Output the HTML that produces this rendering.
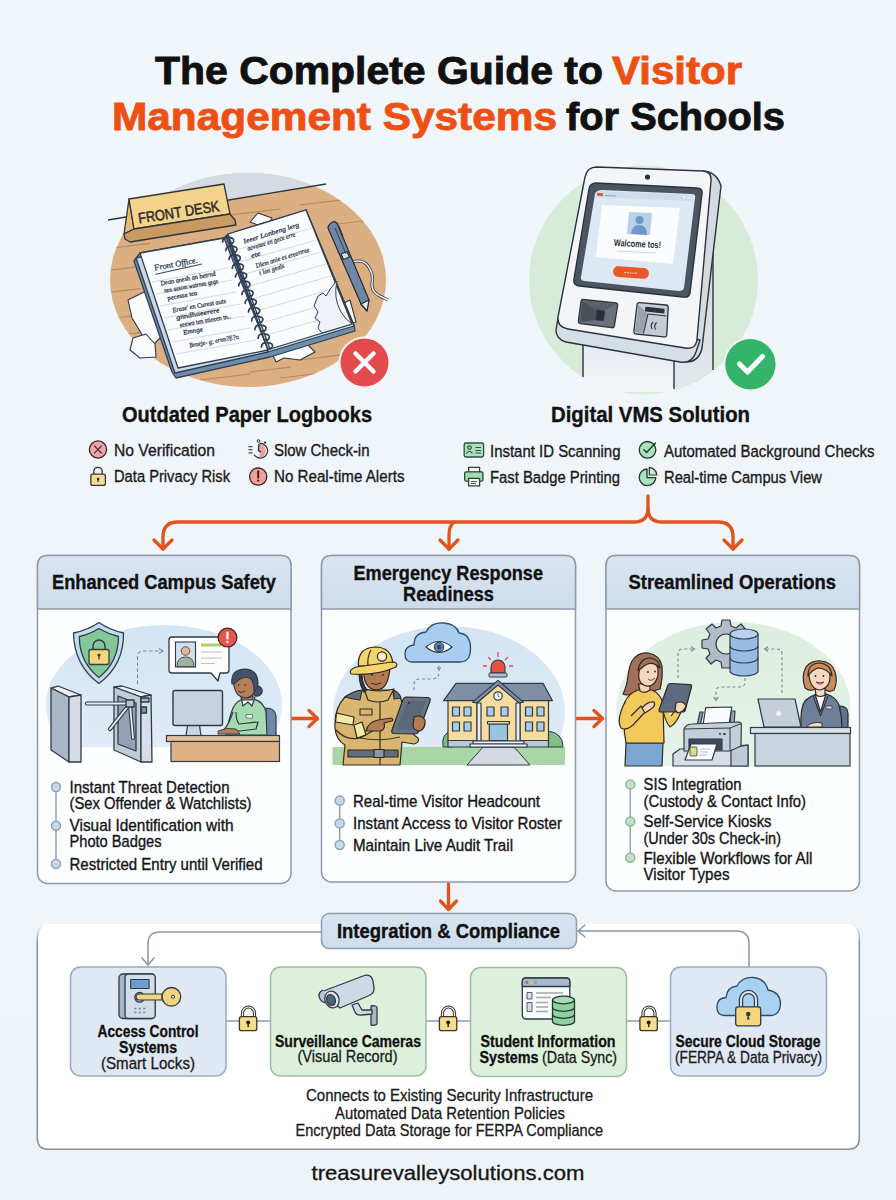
<!DOCTYPE html>
<html><head><meta charset="utf-8">
<style>
html,body{margin:0;padding:0;background:#f0f5fa;width:896px;height:1200px;overflow:hidden}
svg{display:block}
text{font-family:"Liberation Sans",sans-serif}
.b{font-weight:bold}
.hw text{font-family:"Liberation Serif",serif;font-style:italic}
</style></head>
<body>
<svg width="896" height="1200" viewBox="0 0 896 1200">
<defs>
<linearGradient id="bgG" x1="0" y1="0" x2="0" y2="1"><stop offset="0" stop-color="#f1f6fa"/><stop offset="1" stop-color="#eef3f8"/></linearGradient>
<linearGradient id="hdG" x1="0" y1="0" x2="0" y2="1"><stop offset="0" stop-color="#d9e5f1"/><stop offset="1" stop-color="#cddcec"/></linearGradient>
</defs>
<rect width="896" height="1200" fill="url(#bgG)"/>

<!-- TITLE -->
<g class="b" font-size="39.6" stroke-width="0.9">
<text x="155" y="83.5" fill="#111" stroke="#111" textLength="448" lengthAdjust="spacingAndGlyphs">The Complete Guide to</text>
<text x="612" y="83.5" fill="#ee4f12" stroke="#ee4f12" textLength="130" lengthAdjust="spacingAndGlyphs">Visitor</text>
<text x="112" y="129.5" fill="#ee4f12" stroke="#ee4f12" textLength="445" lengthAdjust="spacingAndGlyphs">Management Systems</text>
<text x="566" y="129.5" fill="#111" stroke="#111" textLength="219" lengthAdjust="spacingAndGlyphs">for Schools</text>
</g>

<!-- LEFT ILLUSTRATION -->
<defs><clipPath id="cL"><ellipse cx="248" cy="280" rx="138" ry="107"/></clipPath></defs>
<ellipse cx="248" cy="280" rx="138" ry="107" fill="#dcb083"/>
<g clip-path="url(#cL)">
<polygon points="100,221 326,184 400,170 400,150 100,150" fill="#d5dbe2"/>
<g stroke="#b08458" stroke-width="1.2" fill="none" stroke-linecap="round" opacity="0.85">
<path d="M112 248 L150 243.4"/>
<path d="M112 270 L135 267.2"/>
<path d="M112 292 L140 288.6"/>
<path d="M115 318 L150 313.8"/>
<path d="M120 335 L140 332.6"/>
<path d="M230 215 L280 209.0"/>
<path d="M300 205 L345 199.6"/>
<path d="M330 225 L380 219.0"/>



<path d="M280 378 L330 372.0"/>
<path d="M200 380 L250 374.0"/>
<path d="M160 372 L190 368.4"/>
<path d="M300 360 L340 355.2"/>

<path d="M250 372 L290 367.2"/>
</g>
</g>
<line x1="108" y1="220" x2="326" y2="184" stroke="#2e3440" stroke-width="1.4"/>
<!-- paper scraps -->
<g fill="#fbfcfd" stroke="#2e3440" stroke-width="1.1" stroke-linejoin="round">
<polygon points="128,300 148,290 168,330 150,348 132,318"/>
<polygon points="133,338 146,334 155,344 156,357 140,358 130,350"/>
<polygon points="268,345 300,337 315,352 300,360 284,358 276,362"/>
<polygon points="250,222 258,213 272,218 266,228"/>
<polygon points="330,310 350,300 356,322 340,326"/>
</g>
<!-- sign -->
<g stroke="#2e3440" stroke-width="1.3" stroke-linejoin="round">
<polygon points="124,234 129,199 134,229" fill="#e4bc72"/>
<polygon points="129,199 224,184 230,214 134,229" fill="#f4d48a"/>
<polygon points="124,234 134,229 230,214 235,220 236,225 130,242 125,239" fill="#c99a62"/>
</g>
<text x="0" y="0" font-size="15" fill="#2a2a2a" stroke="#2a2a2a" stroke-width="0.5" transform="translate(139,223.5) rotate(-8.8)" textLength="82" lengthAdjust="spacingAndGlyphs">FRONT DESK</text>
<!-- notebook -->
<g stroke="#2e3f55" stroke-width="1.3" stroke-linejoin="round">
<polygon points="134,261 140,253 224,238 228,234 306,210 354,325 355,331 270,357 176,378 172,372" fill="#6f8cab"/>
<polygon points="136,258 224,240 268,352 175,373" fill="#c9d6e4"/>
<polygon points="228,236 306,210 354,326 268,352" fill="#c9d6e4"/>
<polygon points="140,253 224,238 268,350 178,368" fill="#fbfcfd"/>
<polygon points="228,234 306,210 352,324 270,349" fill="#fbfcfd"/>
</g>
<g stroke="#c5cfdb" stroke-width="0.8">
<path d="M152 282 L228 268 M156 294 L232 280 M160 306 L236 292 M164 318 L240 304 M168 330 L245 316 M172 342 L250 328 M176 354 L256 340"/>
<path d="M236 250 L312 228 M240 262 L316 240 M245 274 L321 252 M250 286 L326 264 M255 298 L331 276 M260 310 L336 288 M265 322 L341 300 M270 334 L346 312"/>
</g>
<g transform="matrix(0.984,-0.176,0.314,0.949,140,253)" class="hw" fill="#2c3850" stroke="#2c3850" stroke-width="0.25">
<text x="9" y="20" font-size="8.5" textLength="44" lengthAdjust="spacingAndGlyphs">Front Office.</text>
<path d="M8 24 L56 22" stroke="#2c3850" stroke-width="0.9"/>
<text x="10" y="36" font-size="6.8" textLength="56" lengthAdjust="spacingAndGlyphs">Dean anesh an betrnd</text>
<text x="11" y="44" font-size="6.8" textLength="55" lengthAdjust="spacingAndGlyphs">nen aesom watrnee gege</text>
<text x="12" y="52" font-size="6.8" textLength="30" lengthAdjust="spacingAndGlyphs">pecesse tea</text>
<text x="13" y="65" font-size="6.8" textLength="54" lengthAdjust="spacingAndGlyphs">Erase' en Cureat auts</text>
<text x="14" y="73" font-size="6.8" textLength="44" lengthAdjust="spacingAndGlyphs">gnndhaeerere</text>
<text x="15" y="81" font-size="6.8" textLength="52" lengthAdjust="spacingAndGlyphs">seewo ten stieeen tn..</text>
<text x="16" y="89" font-size="6.8" textLength="20" lengthAdjust="spacingAndGlyphs">Emnge</text>
<text x="18" y="103" font-size="6.8" textLength="50" lengthAdjust="spacingAndGlyphs">Broeje- g; ernn?E?o</text>
</g>
<g transform="matrix(0.956,-0.294,0.343,0.939,228,234)" class="hw" fill="#2c3850" stroke="#2c3850" stroke-width="0.25">
<text x="12" y="14" font-size="6.8" textLength="58" lengthAdjust="spacingAndGlyphs">Ieeer Lonbeng lerg</text>
<text x="13" y="22" font-size="6.8" textLength="50" lengthAdjust="spacingAndGlyphs">aeveaee en gece erre</text>
<text x="14" y="30" font-size="6.8" textLength="10" lengthAdjust="spacingAndGlyphs">ete</text>
<text x="15" y="41" font-size="6.8" textLength="56" lengthAdjust="spacingAndGlyphs">Dlem anie es ereertree</text>
<text x="16" y="49" font-size="6.8" textLength="26" lengthAdjust="spacingAndGlyphs">i lon geals</text>
</g>
<path d="M318 296 L323 293 L326 296 L331 288 Q334 284 337 281 Q333 298 341 312 Q346 320 352 324 L322 333 L318 328 L320 322 L315 318 L318 312 L314 306 Z" fill="#eef2f7" stroke="#2e3f55" stroke-width="1"/>
<!-- spiral -->
<g fill="none" stroke="#2e3f55" stroke-width="1.7" stroke-linecap="round">
<path d="M226 236 L268 350" stroke-width="1.3"/>
<path d="M222.6 241.9 q0 -5 6 -4.5 q6 0.5 5 4 q-1 3 -4 2"/>
<path d="M225.8 250.7 q0 -5 6 -4.5 q6 0.5 5 4 q-1 3 -4 2"/>
<path d="M229.1 259.4 q0 -5 6 -4.5 q6 0.5 5 4 q-1 3 -4 2"/>
<path d="M232.3 268.2 q0 -5 6 -4.5 q6 0.5 5 4 q-1 3 -4 2"/>
<path d="M235.5 277.0 q0 -5 6 -4.5 q6 0.5 5 4 q-1 3 -4 2"/>
<path d="M238.8 285.7 q0 -5 6 -4.5 q6 0.5 5 4 q-1 3 -4 2"/>
<path d="M242.0 294.5 q0 -5 6 -4.5 q6 0.5 5 4 q-1 3 -4 2"/>
<path d="M245.2 303.3 q0 -5 6 -4.5 q6 0.5 5 4 q-1 3 -4 2"/>
<path d="M248.5 312.0 q0 -5 6 -4.5 q6 0.5 5 4 q-1 3 -4 2"/>
<path d="M251.7 320.8 q0 -5 6 -4.5 q6 0.5 5 4 q-1 3 -4 2"/>
<path d="M254.9 329.6 q0 -5 6 -4.5 q6 0.5 5 4 q-1 3 -4 2"/>
<path d="M258.2 338.3 q0 -5 6 -4.5 q6 0.5 5 4 q-1 3 -4 2"/>
<path d="M261.4 347.1 q0 -5 6 -4.5 q6 0.5 5 4 q-1 3 -4 2"/>
</g>
<!-- pen -->
<path d="M349 263 Q362 258 368 266 Q374 274 372 284 Q371 293 384 298 L388 300" fill="none" stroke="#2e3440" stroke-width="3"/>
<path d="M349 263 Q362 258 368 266 Q374 274 372 284 Q371 293 384 298 L388 300" fill="none" stroke="#eef0f2" stroke-width="1.4"/>
<g stroke="#222a36" stroke-width="1.2" stroke-linejoin="round">
<path d="M330 224 Q333 220 337 223 L369 300 L367 311 L361 304 L328 228 Q328 226 330 224 Z" fill="#6f87a5"/>
<path d="M341 254 L347 251.5 L349.5 257 L343.5 259.5 Z" fill="#d8dee6"/>
<path d="M361 304 L369 300 L367 311 Z" fill="#e4e9ee"/>
</g>
<path d="M335 228 L346 254 M339 226 L343 236" stroke="#2e3440" stroke-width="0.9" fill="none"/>
<!-- red X badge -->
<circle cx="364.5" cy="362.5" r="26" fill="#f6f8fa"/>
<circle cx="364.5" cy="362.5" r="24" fill="#e24a4b"/>
<path d="M355.5 353.5 L373.5 371.5 M373.5 353.5 L355.5 371.5" stroke="#fff" stroke-width="4.5" stroke-linecap="round"/>

<!-- RIGHT ILLUSTRATION -->
<circle cx="643.5" cy="280" r="114.5" fill="#d6ecd8"/>
<g stroke="#2b323c" stroke-width="1.4" stroke-linejoin="round">
<!-- pole -->
<defs><linearGradient id="poleG" x1="0" y1="0" x2="0" y2="1"><stop offset="0" stop-color="#e3e9ef"/><stop offset="1" stop-color="#f3f6f9"/></linearGradient>
<linearGradient id="poleS" x1="0" y1="0" x2="0" y2="1"><stop offset="0" stop-color="#cfd7e0"/><stop offset="1" stop-color="#e2e8ee"/></linearGradient></defs>
<polygon points="672,250 713,244 713,371 672,392" fill="url(#poleS)" stroke="none"/>
<path d="M713 244 V370" fill="none"/>
<polygon points="583,336 674,352 674,392 583,392" fill="url(#poleG)" stroke="none"/>
<path d="M583 338 V377 M674 352 V389" fill="none"/>
<!-- head side panel -->
<path d="M703 171 Q717 172 721 186 L702 348 Q699 362 686 362 L672 360 Z" fill="#d3dae2"/>
<!-- head bottom band -->
<path d="M558 318 L556 330 Q556 339 566 342 L680 362 Q692 364 696 352 L700 340 Z" fill="#d5dde6"/>
<!-- head front -->
<path d="M597 167 L703 171 Q712 172 711 181 L697 339 Q696 350 685 348 L568 329 Q557 327 558 317 L585 177 Q587 167 597 167 Z" fill="#f3f5f8"/>
<!-- screen bezel -->
<path d="M596 183 L697 188 Q703 188 702 194 L690 293 Q689 298 683 297 L579 286 Q573 285 574 279 L589 189 Q590 183 596 183 Z" fill="#4b5563"/>
<path d="M602 190 L692 194 Q696 194 695 198 L684 288 Q683 291 679 291 L584 281 Q580 280 581 277 L595 194 Q596 190 602 190 Z" fill="#dde8f4" stroke="none"/>
</g>
<path d="M598 191 L693 195 L692 201 L597 197 Z" fill="#cddcec"/>
<circle cx="684" cy="197.5" r="1.2" fill="#f4f7fa"/><circle cx="688.5" cy="197.7" r="1.2" fill="#f4f7fa"/>
<path d="M605 195.5 L616 196" stroke="#9aa8b8" stroke-width="1"/>
<rect x="597" y="193" width="6" height="3" fill="#e0553a" transform="rotate(3 600 194)"/>
<!-- white card -->
<polygon points="602,205 680,208 673,264 596,257" fill="#fbfcfd"/>
<polygon points="629,212 652,213 650,235 627,234" fill="#b9d0ea"/>
<circle cx="639.5" cy="220" r="4" fill="#6f98c8"/>
<path d="M631 234 Q632 225 639 225 Q647 225 647 235 Z" fill="#6f98c8"/>
<text x="614" y="247" font-size="9.5" font-weight="bold" fill="#2a2f38" transform="rotate(3 637 244)" textLength="47" lengthAdjust="spacingAndGlyphs">Walcome tos!</text>
<path d="M617 251 L656 253" stroke="#a9b0ba" stroke-width="0.7" stroke-dasharray="1.5 0.6"/>
<rect x="613" y="267" width="36" height="11" rx="5.5" fill="#e8592a" transform="rotate(4 631 272)"/>
<path d="M624 272.5 L638 273.4" stroke="#f7c2ad" stroke-width="1.2" stroke-dasharray="2 0.8"/>
<circle cx="647.5" cy="177" r="2.6" fill="#2b323c"/>
<!-- slots -->
<g stroke="#2b323c" stroke-width="1.3" stroke-linejoin="round">
<path d="M583 299.5 L615.5 302.8 Q618 303 617.6 305.5 L614.5 325.5 Q614 328 611.5 327.7 L580.5 323.6 Q578 323.2 578.4 320.7 L581 301.7 Q581.3 299.3 583 299.5 Z" fill="#6b717c"/>
<polygon points="582.5,301 597,310 596,320 580,322" fill="#4a505a" stroke="none"/>
<polygon points="582.5,301 615.5,304 604,311 597,310" fill="#5a606b" stroke="none"/>
<polygon points="597,310 604.5,311 603.5,320.5 596,320" fill="#2a2f37" stroke-width="0.8"/>
<path d="M639.5 302.7 L666 305 Q668.5 305.3 668.2 307.8 L666.8 334.5 Q666.6 337.2 664 336.9 L636.2 334 Q633.6 333.7 633.9 331.2 L637 305 Q637.3 302.5 639.5 302.7 Z" fill="#c5ccd4"/>
<polygon points="638.5,304.5 648,314 643.5,333 635,332" fill="#9aa2ac" stroke="none"/>
<path d="M648 314 L666.5 316" fill="none" stroke-width="1"/>
<path d="M648 314 L643.5 333.5" fill="none" stroke-width="1"/>
<path d="M646 307.5 L664 309.5 L663.6 312.8 L645.6 310.8 Z" fill="#2b323c"/>
</g>
<path d="M652 329 q-2 -4 1 -7 M655.5 329.5 q-2 -4 1 -7" fill="none" stroke="#2b323c" stroke-width="1.1"/>
<!-- check badge -->
<circle cx="750.4" cy="364.3" r="27" fill="#f3f7f4"/>
<circle cx="750.4" cy="364.3" r="25.2" fill="#33b46a"/>
<path d="M739.5 364 L747.5 372 L762.5 356.5" fill="none" stroke="#fff" stroke-width="5" stroke-linecap="round" stroke-linejoin="round"/>


<!-- HEADINGS -->
<g class="b" font-size="21.8" fill="#111" stroke="#111" stroke-width="0.35">
<text x="122" y="422" textLength="250" lengthAdjust="spacingAndGlyphs">Outdated Paper Logbooks</text>
<text x="551" y="422" textLength="199" lengthAdjust="spacingAndGlyphs">Digital VMS Solution</text>
</g>
<g font-size="17.4" fill="#1a1a1a" stroke="#1a1a1a" stroke-width="0.35">
<text x="114" y="456" textLength="101" lengthAdjust="spacingAndGlyphs">No Verification</text>
<text x="274" y="456" textLength="95.5" lengthAdjust="spacingAndGlyphs">Slow Check-in</text>
<text x="114" y="482" textLength="116" lengthAdjust="spacingAndGlyphs">Data Privacy Risk</text>
<text x="274" y="482" textLength="130.5" lengthAdjust="spacingAndGlyphs">No Real-time Alerts</text>
<text x="490" y="457" textLength="130.5" lengthAdjust="spacingAndGlyphs">Instant ID Scanning</text>
<text x="664" y="457" textLength="210.5" lengthAdjust="spacingAndGlyphs">Automated Background Checks</text>
<text x="490" y="483" textLength="130" lengthAdjust="spacingAndGlyphs">Fast Badge Printing</text>
<text x="664" y="483" textLength="158" lengthAdjust="spacingAndGlyphs">Real-time Campus View</text>
</g>
<!-- FEATURE ICONS -->
<g stroke="#3a2424" stroke-width="1.3">
<circle cx="98" cy="449.5" r="8.6" fill="#eca6a9"/>
<path d="M94.2 445.7 L101.8 453.3 M101.8 445.7 L94.2 453.3" stroke-width="1.1"/>
<circle cx="258.2" cy="476.6" r="8.6" fill="#eea29c"/>
</g>
<path d="M258.2 471.2 L258.2 477.6" stroke="#5a1414" stroke-width="2" stroke-linecap="round"/>
<circle cx="258.2" cy="480.6" r="1.1" fill="#5a1414"/>
<!-- stopwatch -->
<path d="M259.5 443.5 A7.3 7.3 0 0 1 259.5 458 Z" fill="#eea29c"/>
<path d="M254 454.5 A7.3 7.3 0 1 0 259.5 443.5" fill="none" stroke="#2e2e2e" stroke-width="1.2"/>
<path d="M259 444 L258.5 450.5 L261 452" fill="none" stroke="#2e2e2e" stroke-width="1.4"/>
<circle cx="258.5" cy="441" r="1.3" fill="none" stroke="#2e2e2e" stroke-width="1"/>
<circle cx="265" cy="442.6" r="1.1" fill="#2e2e2e"/>
<path d="M248.5 446.6 H252.5 M248.5 449.6 H252.5 M248.5 452.8 H252.5" stroke="#4a4a4a" stroke-width="1.2"/>
<!-- lock -->
<path d="M93.8 474.5 V471.5 A4.2 4.2 0 0 1 102.2 471.5 V474.5" fill="none" stroke="#2f2f2f" stroke-width="1.3"/>
<rect x="90.8" y="474.2" width="14.6" height="11.2" rx="2" fill="#f4dc98" stroke="#3a3528" stroke-width="1.3"/>
<circle cx="98.1" cy="479" r="1.2" fill="#222"/><path d="M98.1 479 V482" stroke="#222" stroke-width="1.1"/>
<!-- ID card -->
<rect x="464.2" y="443" width="19.4" height="14" rx="1.8" fill="#a9e2bc" stroke="#2f4f3a" stroke-width="1.3"/>
<circle cx="469.5" cy="447.6" r="1.8" fill="none" stroke="#2f4f3a" stroke-width="1.2"/>
<path d="M466.5 453.5 Q469.5 449 472.5 453.5" fill="none" stroke="#2f4f3a" stroke-width="1.2"/>
<path d="M475.5 447.5 H481 M475.5 450.5 H481 M475.5 453 H481" stroke="#2f4f3a" stroke-width="1"/>
<!-- printer -->
<g stroke="#2f3f36" stroke-width="1.3" stroke-linejoin="round">
<rect x="468.6" y="467.4" width="11" height="5" fill="#f6f8f7"/>
<rect x="464.7" y="471.8" width="18.2" height="9.4" rx="1.5" fill="#9fdcb3"/>
<rect x="468.6" y="478.3" width="11" height="7.6" fill="#fbfcfb"/>
</g>
<path d="M471 481.5 H477 M471 483.5 H476" stroke="#2f3f36" stroke-width="0.9"/>
<!-- check circle -->
<circle cx="647.5" cy="449.8" r="8.3" fill="#a9e2bc" stroke="#24352b" stroke-width="1.3"/>
<path d="M644 449.8 L646.6 452.5 L655.5 443" fill="none" stroke="#1f3d2a" stroke-width="1.4" stroke-linecap="round"/>
<!-- pie -->
<path d="M647 469 A8.3 8.3 0 1 0 655.8 477.6 L647 477.6 Z" fill="#a9e2bc" stroke="#24352b" stroke-width="1.3" stroke-linejoin="round"/>
<path d="M649.3 467.4 A8 8 0 0 1 656.8 475 L649.3 475 Z" fill="#c7ecd2" stroke="#24352b" stroke-width="1.2" stroke-linejoin="round"/>


<!-- ORANGE ARROWS -->
<g fill="none" stroke="#e0531d" stroke-width="3.3" stroke-linecap="round" stroke-linejoin="round">
<path d="M648 496 V508 Q648 522 634 522 H178 Q163 522 163 537 V549"/>
<path d="M648 508 Q648 522 662 522 H718 Q733 522 733 537 V549"/>
<path d="M154 540 L163 549 L172 540"/>
<path d="M724 540 L733 549 L742 540"/>
<path d="M454 522 Q449 526 449 535 V549"/>
<path d="M440 540 L449 549 L458 540"/>
<path d="M292 718.5 H317"/>
<path d="M309 710.5 L317.5 718.5 L309 726.5"/>
<path d="M576 718.5 H602"/>
<path d="M594 710.5 L602.5 718.5 L594 726.5"/>
<path d="M448.5 884 V909"/>
<path d="M440.5 901 L448.5 909.5 L456.5 901"/>
</g>

<!-- CARDS -->
<g stroke="#8e9aa8" stroke-width="1.5">
<rect x="37.5" y="555.5" width="253.5" height="328" rx="10" fill="#fdfeff"/>
<path d="M37.5 609 V565.5 Q37.5 555.5 47.5 555.5 H281 Q291 555.5 291 565.5 V609 Z" fill="url(#hdG)"/>
<rect x="321.5" y="555.5" width="254" height="326.5" rx="10" fill="#fdfeff"/>
<path d="M321.5 609 V565.5 Q321.5 555.5 331.5 555.5 H565.5 Q575.5 555.5 575.5 565.5 V609 Z" fill="url(#hdG)"/>
<rect x="606" y="555.5" width="253.5" height="335.5" rx="10" fill="#fdfeff"/>
<path d="M606 609 V565.5 Q606 555.5 616 555.5 H849.5 Q859.5 555.5 859.5 565.5 V609 Z" fill="url(#hdG)"/>
</g>
<g class="b" font-size="20.6" fill="#111" stroke="#111" stroke-width="0.35">
<text x="52" y="588.6" textLength="224" lengthAdjust="spacingAndGlyphs">Enhanced Campus Safety</text>
<text x="353.5" y="580.3" textLength="189.5" lengthAdjust="spacingAndGlyphs">Emergency Response</text>
<text x="403" y="601" textLength="91" lengthAdjust="spacingAndGlyphs">Readiness</text>
<text x="628.5" y="588.6" textLength="207.5" lengthAdjust="spacingAndGlyphs">Streamlined Operations</text>
</g>

<!-- CARD1 ILLUS -->
<defs><clipPath id="c1"><rect x="40" y="612" width="250" height="135"/></clipPath>
<linearGradient id="blueE" x1="0" y1="0" x2="0" y2="1"><stop offset="0" stop-color="#d3e5f3"/><stop offset="1" stop-color="#e3eef7"/></linearGradient></defs>
<ellipse cx="164" cy="705" rx="118" ry="80" fill="url(#blueE)" clip-path="url(#c1)"/>
<!-- shield -->
<g stroke="#2e3f50" stroke-width="1.3" stroke-linejoin="round">
<path d="M98.9 622.5 Q110 630 123.5 633 Q124 665 98.9 683.5 Q74 665 73.5 633 Q88 630 98.9 622.5 Z" fill="#c6dcea"/>
<path d="M98.9 628.5 Q108 634 118.5 636.5 Q118.5 662 98.9 677.5 Q79.3 662 79.3 636.5 Q90 634 98.9 628.5 Z" fill="#84c797"/>
<path d="M93 650 V646 A6 6 0 0 1 105 646 V650" fill="none" stroke-width="1.5"/>
<rect x="89" y="649.5" width="20" height="15" rx="2" fill="#f5d679"/>
</g>
<circle cx="99" cy="655" r="1.6" fill="#2e3f50"/><path d="M99 655 V659.5" stroke="#2e3f50" stroke-width="1.3"/>
<!-- dashed arrow -->
<path d="M137.5 684 V657 Q137.5 651 143.5 651 H162" fill="none" stroke="#7b8794" stroke-width="1.1" stroke-dasharray="3.5 2.5"/>
<path d="M159 648.5 L163 651 L159 653.5" fill="none" stroke="#7b8794" stroke-width="1.1"/>
<!-- left pillar -->
<g stroke="#2e3a48" stroke-width="1.3" stroke-linejoin="round">
<polygon points="51,688 58,686 81,695 69,697" fill="#e8eef4"/>
<polygon points="51,688 69,697 69,762 51,750" fill="#a9b7c7"/>
<polygon points="69,697 81,695 81,762 69,762" fill="#d4dde7"/>
<!-- right unit -->
<polygon points="114,687 122,686 151,695 141,697" fill="#e8eef4"/>
<polygon points="114,687 141,697 141,762 114,750" fill="#c2ccd7"/>
<polygon points="118,696 136,703 136,751 118,744" fill="#93a3b5"/>
<polygon points="141,697 151,695 152,762 141,762" fill="#d6dee7"/>
<rect x="141.5" y="707" width="5" height="6" fill="#5fae72"/>
<rect x="141" y="698" width="8" height="4" fill="#aab6c3"/>
<!-- arms -->
<path d="M87 703.5 H129" stroke="#2e3a48" stroke-width="4.2" stroke-linecap="round"/>
<path d="M87 703.5 H129" stroke="#e6ecf2" stroke-width="2" stroke-linecap="round"/>
<path d="M129 705 L110 729" stroke="#2e3a48" stroke-width="4.2" stroke-linecap="round"/>
<path d="M129 705 L110 729" stroke="#e6ecf2" stroke-width="2" stroke-linecap="round"/>
<path d="M130 705 L133 738" stroke="#2e3a48" stroke-width="4" stroke-linecap="round"/>
<path d="M130 705 L133 738" stroke="#e6ecf2" stroke-width="1.8" stroke-linecap="round"/>
<rect x="126" y="700" width="8" height="7" fill="#b7c3cf"/>
</g>
<!-- speech bubble -->
<path d="M172 637 H226 Q229 637 229 640 V670 Q229 673 226 673 H220 L218 681 L211 673 H172 Q169 673 169 670 V640 Q169 637 172 637 Z" fill="#fdfdfe" stroke="#2e3a48" stroke-width="1.3" stroke-linejoin="round"/>
<rect x="175.5" y="642" width="20" height="25" fill="#cfe0ee" stroke="#2e3a48" stroke-width="1.1"/>
<circle cx="185.5" cy="651" r="4.3" fill="#e7b48e" stroke="#2e3a48" stroke-width="0.8"/>
<path d="M177 666.5 Q177 657 185.5 657 Q194 657 194 666.5 Z" fill="#9fb09f" stroke="#2e3a48" stroke-width="0.8"/>
<rect x="201" y="643.5" width="20" height="3" fill="#a8cf6a"/>
<path d="M201 652 H222 M201 658 H222 M201 663.5 H215" stroke="#b8c0c8" stroke-width="1.2"/>
<circle cx="227.5" cy="637.6" r="9.4" fill="#e5574d" stroke="#4a2020" stroke-width="1.2"/>
<path d="M227.5 632.5 V638.5" stroke="#fff" stroke-width="2.2" stroke-linecap="round"/>
<circle cx="227.5" cy="642" r="1.2" fill="#fff"/>
<!-- chair -->
<path d="M266 708 Q275 708 276 716 V736 H265 Z" fill="#6f89ab" stroke="#2e3a48" stroke-width="1.2"/>
<!-- person -->
<g stroke="#2e3a48" stroke-width="1.2" stroke-linejoin="round">
<path d="M226 735 Q229 718 233 708 Q237 700 244 699 L254 699 Q264 702 266 712 L267 735 Z" fill="#a6dbb1"/>
<path d="M233 712 Q229 724 224 730 L240 731 L256 729 L258 722 L239 724 Q236 720 236 712" fill="#a6dbb1"/>
<path d="M241 697 L243 706 L248 702 L252 706 L255 697 Z" fill="#fbfcfc"/>
<rect x="246" y="714.5" width="6.5" height="3.5" fill="#fff" stroke-width="0.6"/>
<path d="M241 692 L242 700 L253 700 L252 692 Z" fill="#b58058"/>
<circle cx="257" cy="691" r="5.2" fill="#44536a"/>
<path d="M234 686 Q233 677 240 676 L252 677 Q256 680 255 690 Q253 698 245 698 Q236 697 234 686 Z" fill="#b58058"/>
<path d="M232 684 Q230 670 244 669 Q258 669 258 684 Q257 690 254 691 Q254 681 250 678 Q242 675 234 684 Z" fill="#44536a"/>
<path d="M218 731 Q226 727 236 729 L240 734 L218 734 Z" fill="#b58058" stroke-width="0.9"/>
</g>
<path d="M238 691 Q241 694 245 691" fill="none" stroke="#4a2a1a" stroke-width="0.9"/>
<circle cx="238.5" cy="685" r="0.8" fill="#2e2a22"/><circle cx="245" cy="685" r="0.8" fill="#2e2a22"/>
<!-- monitor -->
<path d="M188 722 H199 L201 736 H186 Z" fill="#cbd5df" stroke="#2e3a48" stroke-width="1.2"/>
<rect x="173" y="690.5" width="49.5" height="35" rx="2" fill="#c8d3de" stroke="#2e3a48" stroke-width="1.4"/>
<!-- desk -->
<rect x="166.5" y="735.5" width="113" height="6" fill="#e4c096" stroke="#2e3a48" stroke-width="1.2"/>
<rect x="171" y="741.5" width="108.5" height="20" fill="#deb285" stroke="#2e3a48" stroke-width="1.2"/>

<!-- CARD2 ILLUS -->
<defs><clipPath id="c2"><rect x="323" y="612" width="251" height="135"/></clipPath></defs>
<ellipse cx="449" cy="712" rx="116" ry="86" fill="url(#blueE)" clip-path="url(#c2)"/>
<rect x="332.5" y="747" width="232.5" height="18" fill="#a9d6a6"/>
<!-- path -->
<polygon points="483,747 514,747 530,765 467,765" fill="#d3dae2" stroke="#2e3a48" stroke-width="1"/>
<!-- bushes -->
<path d="M443 747 Q441 733 452 731 L452 747 Z" fill="#7fbf86" stroke="#2e3a48" stroke-width="1"/>
<path d="M548 747 L548 731 Q563 733 563 747 Z" fill="#7fbf86" stroke="#2e3a48" stroke-width="1"/>
<!-- school -->
<g stroke="#2e3a48" stroke-width="1.2" stroke-linejoin="round">
<rect x="448" y="700" width="100.5" height="41" fill="#f6dc9f"/>
<rect x="448" y="740.5" width="100.5" height="6.5" fill="#b9c7d6"/>
<polygon points="443.6,700.7 456,683.3 543,683.3 552.5,700.7" fill="#7f8ea3"/>
<polygon points="477,703 498,681 520,703 520,741 477,741" fill="#f6dc9f"/>
<polygon points="472.6,702.1 498,680.4 523.4,702.1 519,703 498,685 477,703" fill="#7f8ea3"/>
<rect x="477" y="703" width="4" height="38" fill="#e8eef5"/>
<rect x="516" y="703" width="4" height="38" fill="#e8eef5"/>
<circle cx="498" cy="696" r="4.2" fill="#fbfcfd"/>
<rect x="489.3" y="724" width="18.2" height="16.6" fill="#9dc2df"/>
<rect x="487.5" y="721.5" width="22" height="2.5" fill="#f3d79a"/>
<rect x="473" y="741" width="51" height="3" fill="#eef2f6"/>
<rect x="470" y="744" width="57" height="3" fill="#eef2f6"/>
<g fill="#a9cbe6">
<rect x="452.5" y="707" width="7" height="9"/><rect x="464" y="707" width="7" height="9"/>
<rect x="452.5" y="722" width="7" height="9"/><rect x="464" y="722" width="7" height="9"/>
<rect x="487" y="707" width="7" height="9"/><rect x="501" y="707" width="7" height="9"/>
<rect x="525.5" y="707" width="7" height="9"/><rect x="537" y="707" width="7" height="9"/>
<rect x="525.5" y="722" width="7" height="9"/><rect x="537" y="722" width="7" height="9"/>
</g>
</g>
<path d="M498 693 V696.5 L499.5 697" stroke="#2e3a48" stroke-width="0.8" fill="none"/>
<!-- siren -->
<path d="M491 673 V667 A7 7 0 0 1 505 667 V673 Z" fill="#e5503f" stroke="#2e3a48" stroke-width="1.1"/>
<rect x="489" y="673" width="18" height="4" rx="1" fill="#b4c0cd" stroke="#2e3a48" stroke-width="1"/>
<path d="M498 652 V657 M488 657 L491 660 M508 657 L505 660 M483 666 H487 M509 666 H513" stroke="#e5503f" stroke-width="1.3"/>
<!-- cloud -->
<path d="M412 662 Q405 662 405 654 Q405 646 414 645 Q414 633 426 632 Q431 622 444 623 Q456 624 459 633 Q470 634 470.5 647 Q471 662 460 662 Z" fill="#a9cdef" stroke="#2e4a6a" stroke-width="1.3"/>
<path d="M426 647 Q439 636 452 647 Q439 658 426 647 Z" fill="#fbfcfd" stroke="#2e3a48" stroke-width="1.2"/>
<circle cx="439" cy="647" r="4.8" fill="#5b7fb0" stroke="#2e3a48" stroke-width="1"/>
<circle cx="439" cy="647" r="2.2" fill="#2e4a6a"/>
<!-- dashed -->
<path d="M439 668 V672 Q439 679 432 679 H420 Q414 679 414 685 V690" fill="none" stroke="#7b8794" stroke-width="1.1" stroke-dasharray="3 2.5"/>
<circle cx="439" cy="668" r="1.3" fill="none" stroke="#7b8794"/>
<!-- firefighter -->
<g stroke="#2e2a22" stroke-width="1.2" stroke-linejoin="round">
<!-- body -->
<path d="M343 765 L345 745 Q336 740 335 728 Q334 708 345 697 Q355 691 366 690 L392 690 Q400 694 402 702 L406 722 Q412 735 418 738 Q420 742 414 744 L402 742 L400 765 Z" fill="#d9b670"/>
<path d="M345 697 Q353 691 362 690 L360 700 Q352 699 345 697 Z" fill="#5f6d80"/>
<path d="M393 690 Q399 692 401 698 L394 699 Z" fill="#5f6d80"/>
<!-- collar -->
<path d="M364 689 L368 700 Q378 704 388 700 L394 689 Q380 693 364 689 Z" fill="#d9b670"/>
<path d="M380 702 V750 M380 757 V765" fill="none"/>
<rect x="360" y="709" width="12" height="6" fill="none" stroke-width="1.1"/>
<!-- left sleeve stripes -->
<path d="M336.5 713 L354 717 L353 725 L335.5 722 Z" fill="#f2eaa6"/>
<path d="M354 725 L362 722 L366 735 L357 738 Z" fill="#f2eaa6"/>
<path d="M336 730 Q346 741 360 738 L378 728" fill="none"/>
<path d="M360 738 Q380 742 400 737" fill="none" stroke-width="0.9"/>
<path d="M378 735 L404 740" fill="#f2eaa6" stroke="none"/>
<!-- belt -->
<rect x="348" y="750" width="50" height="7" fill="#5f6d80"/>
<rect x="374" y="749.5" width="10" height="8" fill="#8a97a8"/>
<!-- face -->
<path d="M364 667 Q362 689 377 690 Q389 689 390 666 Z" fill="#b27a52"/>
<path d="M362 669 Q361 683 367 690 L364 692 Q358 683 359.5 669 Z" fill="#2e3a48"/>
<!-- helmet -->
<path d="M358.5 666 Q357 648 375 647 Q392 647 393 665 Z" fill="#f3d56c"/>
<path d="M351 674 Q348 670 356 667 L392 662 Q399 662 396 667 Q376 676 351 674 Z" fill="#f3d56c"/>
<path d="M371 650 Q367 657 368 666" fill="none"/>
<circle cx="382" cy="656.5" r="4.6" fill="#f8eec8"/>
<!-- pointing hand -->
<path d="M366 731 Q368 722 378 720 L391 718 Q394 719 392 721 L384 723 Q386 728 381 731 Z" fill="#b27a52"/>
<!-- tablet -->
<path d="M406 697 L428 697.5 Q431 698 430 701 L419 731 Q417.5 734 414.5 734 L394 733.5 Q391 733 392 730 L403 699.5 Q404 697 406 697 Z" fill="#667486"/>
<path d="M408 700.5 L426 701 L416 730 L396 729.5 Z" fill="#5b6878" stroke="none"/>
<circle cx="409" cy="703" r="0.9" fill="#2e2a22" stroke="none"/>
<!-- holding hand -->
<path d="M414 717 Q421 714 425 720 Q426 728 420 731 Q414 731 413 726 Z" fill="#b27a52"/>
</g>
<circle cx="372" cy="675" r="0.9" fill="#2e2a22"/><circle cx="383" cy="675" r="0.9" fill="#2e2a22"/>
<path d="M371 683 Q376 686 381 683" fill="none" stroke="#3a2010" stroke-width="0.9"/>

<!-- CARD3 ILLUS -->
<defs><clipPath id="c3"><rect x="608" y="612" width="250" height="154"/></clipPath>
<linearGradient id="greenE" x1="0" y1="0" x2="0" y2="1"><stop offset="0" stop-color="#dcefdf"/><stop offset="1" stop-color="#e8f4ea"/></linearGradient></defs>
<ellipse cx="733.5" cy="708" rx="117" ry="86" fill="url(#greenE)" clip-path="url(#c3)"/>
<!-- dashed arrows -->
<g fill="none" stroke="#7b8794" stroke-width="1.1" stroke-dasharray="3 2.5">
<path d="M678 678 V654 Q678 649 683 649 H693"/>
<path d="M782 693 V654 Q782 649 777 649 H766"/>
<path d="M745 678 V682 Q745 687 740 687 H721 Q716 687 716 692 V699"/>
</g>
<path d="M691 646.5 L694.5 649 L691 651.5 M768 646.5 L764.5 649 L768 651.5 M713.5 697 L716 700.5 L718.5 697" fill="none" stroke="#7b8794" stroke-width="1.1"/>
<!-- gear -->
<g transform="translate(726 644)">
<path d="M-4 -24 H4 L5 -18 L10 -16 L15 -20 L20 -14 L16 -9 L18 -4 L24 -3 V4 L18 5 L16 10 L20 15 L14 20 L10 16 L5 18 L4 24 H-4 L-5 18 L-10 16 L-15 20 L-20 14 L-16 10 L-18 5 L-24 4 V-4 L-18 -5 L-16 -10 L-20 -15 L-14 -20 L-10 -16 L-5 -18 Z" fill="#b2bbc6" stroke="#2e3a48" stroke-width="1.2" stroke-linejoin="round"/>
<circle r="10" fill="#dcefdf" stroke="#2e3a48" stroke-width="1.2"/>
</g>
<!-- database -->
<g stroke="#2e3a48" stroke-width="1.2">
<path d="M730 634 V671 A14 5 0 0 0 758 671 V634" fill="#98bce6"/>
<ellipse cx="744" cy="634" rx="14" ry="5" fill="#b7d0ef"/>
<path d="M730 646 A14 5 0 0 0 758 646 M730 658 A14 5 0 0 0 758 658" fill="none"/>
</g>
<!-- printer -->
<g stroke="#2e3a48" stroke-width="1.2" stroke-linejoin="round">
<polygon points="673,754 680,749 748,745 748,766 673,766" fill="#d6dde5"/>
<polygon points="731,748 748,745 748,766 731,766" fill="#c0cad5"/>
<polygon points="700,712 703,712 700,726 697,726" fill="#9aa6b3"/>
<polygon points="731,711 735,711 734,725 730,725" fill="#9aa6b3"/>
<polygon points="705.7,707.6 731.8,707 729,724.5 703,725" fill="#fbfcfd"/>
<path d="M684 729 Q686 724 692 724 L738 722 Q742 722 741.3 726 L741 746 L730 751 L684 751 Z" fill="#c6cfd9"/>
<path d="M684 729 L730 728 L741.3 723.5" fill="none" stroke-width="1"/>
<path d="M730 728 V751" fill="none" stroke-width="1"/>
<rect x="689" y="739" width="33" height="11" fill="#3e4a5c"/>
<polygon points="691,744 717,744 712,760 685,760" fill="#fbfcfd"/>
<rect x="690" y="747" width="7" height="9" rx="1" fill="#d7e07a" stroke-width="0.8"/>
</g>
<path d="M700 749 H710 M700 752 H708 M699 755 H707" stroke="#a9b0b8" stroke-width="0.8"/>
<path d="M719 734 h2 M723 734 h3" stroke="#2e3a48" stroke-width="1.3"/>
<!-- woman 1 -->
<g stroke="#2e2a22" stroke-width="1.2" stroke-linejoin="round">
<path d="M632 661 Q638 652 648 653 Q660 655 662 666 Q663 678 660 689 L650 692 L632 694 Q626 696 623 694 Q627 686 628 676 Q629 667 632 661 Z" fill="#a2705a"/>
<path d="M625 766 L626 743 L663 743 L662 766 Z" fill="#7ea6d2"/>
<path d="M626 743 Q622 720 625 702 Q628 694 638 690 L652 690 Q661 694 663 704 L664 743 Z" fill="#f4c95c"/>
<path d="M625 702 Q616 720 621 728 Q626 731 633 725 L645 712 L641 706 L631 716" fill="#f4c95c"/>
<path d="M662 706 Q665 722 670 727 Q676 724 681 712 L677 708 L671 716" fill="#f4c95c"/>
<path d="M670.3 683.5 L690.6 684.6 Q692 685 691.5 687 L685 711 Q684.5 712 683 712 L660 712 Q658.5 711.5 659 710 L668 685 Q668.8 683.4 670.3 683.5 Z" fill="#5d6b80"/>
<path d="M642 708 Q648 701 654 702 Q656 706 651 709 L645 713 Z" fill="#f4d5bd"/>
<path d="M676 703 Q683 700 686 706 Q684 712 678 713 L675 710 Z" fill="#f4d5bd"/>
<path d="M638.5 684 L640 691 Q645 694 650 690 L650 684 Z" fill="#f4d5bd"/>
<path d="M640 668 Q641 662 649 662 Q657 662 658 670 Q659 680 652 685 Q646 688 641 683 Q637 678 640 668 Z" fill="#f4d5bd"/>
<path d="M638 670 Q640 658 650 658 Q659 659 660 668 Q652 660 644 666 Q641 669 638 670 Z" fill="#a2705a"/>
</g>
<path d="M648 679 Q651 682 655 678" fill="none" stroke="#7a3020" stroke-width="0.9"/>
<circle cx="648" cy="672" r="0.9" fill="#2e2a22"/><circle cx="655" cy="671.5" r="0.9" fill="#2e2a22"/>
<!-- woman 2 -->
<g stroke="#2e2a22" stroke-width="1.2" stroke-linejoin="round">
<path d="M840 706 Q848 706 848 714 V734 H838 Z" fill="#5f7390"/>
<path d="M801 728 Q800 706 806 700 Q812 695 818 694 L826 694 Q836 697 839 705 Q842 716 842 728 Z" fill="#6d7f99"/>
<path d="M815 694 L820.5 712 L826 694 Z" fill="#fbfcfd"/>
<path d="M813 696 L820.5 716 L828 696" fill="none" stroke-width="1"/>
<path d="M805 688 Q801 676 806 667 Q812 660 821 661 Q832 662 835 672 Q838 682 834 690 Q828 693 825 689 L815 689 Q810 692 805 688 Z" fill="#cc8b5c"/>
<path d="M815 688 L816 695 Q820 698 825 695 L825 688 Z" fill="#f5d8c2"/>
<path d="M809 675 Q810 666 820 666 Q830 667 830 677 Q830 688 820 690 Q810 689 809 675 Z" fill="#f5d8c2"/>
<path d="M808 676 Q808 663 820 663 Q831 664 832 676 Q826 668 818 668 Q812 670 808 676 Z" fill="#cc8b5c"/>
<path d="M806 727 Q812 721 822 723 L822 727 Z" fill="#f5d8c2" stroke-width="0.9"/>
<rect x="826" y="706" width="6" height="3" fill="#c9d2dc" stroke-width="0.6"/>
</g>
<path d="M816 682 Q820 686 824 682 Q820 684 816 682 Z" fill="#fff" stroke="#7a3020" stroke-width="0.9"/>
<circle cx="815.5" cy="676" r="0.9" fill="#2e2a22"/><circle cx="823.5" cy="676" r="0.9" fill="#2e2a22"/>
<!-- laptop -->
<path d="M758 699 L795 699 L801 727 L764 727 Z" fill="#c6cfd9" stroke="#2e3a48" stroke-width="1.2" stroke-linejoin="round"/>
<circle cx="778.5" cy="713.5" r="2.5" fill="#eef2f6"/>
<!-- desk -->
<rect x="750.5" y="727.5" width="100" height="6" fill="#dbe2ea" stroke="#2e3a48" stroke-width="1.2"/>
<rect x="755" y="733.5" width="95" height="32.5" fill="#cbd4de" stroke="#2e3a48" stroke-width="1.2"/>


<!-- BULLETS -->
<g stroke-width="1.5">
<path d="M56 787 V864" stroke="#8fa3b6"/>
<circle cx="56" cy="787" r="4.5" fill="#c7d8e8" stroke="#8fa3b6"/>
<circle cx="56" cy="825.7" r="4.5" fill="#c7d8e8" stroke="#8fa3b6"/>
<circle cx="56" cy="864" r="4.5" fill="#c7d8e8" stroke="#8fa3b6"/>
<path d="M339.7 800.6 V845" stroke="#8fa3b6"/>
<circle cx="339.7" cy="800.6" r="4.5" fill="#c7d8e8" stroke="#8fa3b6"/>
<circle cx="339.7" cy="823.4" r="4.5" fill="#c7d8e8" stroke="#8fa3b6"/>
<circle cx="339.7" cy="845" r="4.5" fill="#c7d8e8" stroke="#8fa3b6"/>
<path d="M630.3 784.4 V857.8" stroke="#8fa3b6"/>
<circle cx="630.3" cy="784.4" r="4.5" fill="#bfe3c4" stroke="#8fb39a"/>
<circle cx="630.3" cy="821.6" r="4.5" fill="#bfe3c4" stroke="#8fb39a"/>
<circle cx="630.3" cy="857.8" r="4.5" fill="#bfe3c4" stroke="#8fb39a"/>
</g>
<g font-size="16.4" fill="#141414" stroke="#141414" stroke-width="0.35">
<text x="69.5" y="793" textLength="160" lengthAdjust="spacingAndGlyphs">Instant Threat Detection</text>
<text x="69.5" y="808.8" textLength="182" lengthAdjust="spacingAndGlyphs">(Sex Offender &amp; Watchlists)</text>
<text x="69.5" y="830.8" textLength="164" lengthAdjust="spacingAndGlyphs">Visual Identification with</text>
<text x="69.5" y="847.4" textLength="92" lengthAdjust="spacingAndGlyphs">Photo Badges</text>
<text x="69.5" y="870" textLength="193" lengthAdjust="spacingAndGlyphs">Restricted Entry until Verified</text>
<text x="353" y="806.9" textLength="187" lengthAdjust="spacingAndGlyphs">Real-time Visitor Headcount</text>
<text x="353" y="828.75" textLength="209" lengthAdjust="spacingAndGlyphs">Instant Access to Visitor Roster</text>
<text x="353" y="850.6" textLength="160" lengthAdjust="spacingAndGlyphs">Maintain Live Audit Trail</text>
<text x="643.5" y="789.7" textLength="98" lengthAdjust="spacingAndGlyphs">SIS Integration</text>
<text x="643.5" y="806.9" textLength="162.5" lengthAdjust="spacingAndGlyphs">(Custody &amp; Contact Info)</text>
<text x="643.5" y="826.6" textLength="128" lengthAdjust="spacingAndGlyphs">Self-Service Kiosks</text>
<text x="643.5" y="843.75" textLength="137.5" lengthAdjust="spacingAndGlyphs">(Under 30s Check-in)</text>
<text x="643.5" y="863.75" textLength="169" lengthAdjust="spacingAndGlyphs">Flexible Workflows for All</text>
<text x="643.5" y="880.3" textLength="86" lengthAdjust="spacingAndGlyphs">Visitor Types</text>
</g>

<!-- INTEGRATION -->
<defs><linearGradient id="bordG" x1="0" y1="0" x2="0" y2="1"><stop offset="0" stop-color="#8d959d" stop-opacity="0"/><stop offset="0.08" stop-color="#8d959d" stop-opacity="1"/></linearGradient></defs>
<rect x="37.3" y="924" width="822" height="225.3" rx="11" fill="#ffffff"/>
<path d="M44 925 Q37.3 929 37.3 937 V1138.3 Q37.3 1149.3 48.3 1149.3 H848.3 Q859.3 1149.3 859.3 1138.3 V937 Q859.3 929 853 925" fill="none" stroke="url(#bordG)" stroke-width="1.6"/>
<g fill="none" stroke="#8796a6" stroke-width="1.5" stroke-linecap="round" stroke-linejoin="round">
<path d="M322 932 H160 Q148 932 148 944 V965"/>
<path d="M142 958 L148 965 L154 958"/>
<path d="M749 966 V944 Q749 931 736 931 H578"/>
<path d="M585 925 L578 931 L585 937"/>
</g>
<rect x="321.5" y="913.5" width="255" height="35" rx="8" fill="url(#hdG)" stroke="#8f9dad" stroke-width="1.5"/>
<text class="b" x="337" y="938" font-size="20" fill="#111" stroke="#111" stroke-width="0.4" textLength="223" lengthAdjust="spacingAndGlyphs">Integration &amp; Compliance</text>

<g stroke-width="1.5">
<path d="M226 1021 H270 M426 1021 H470 M627 1021 H670" stroke="#8c99a6"/>
<rect x="70.5" y="967" width="155.5" height="109" rx="10" fill="#dfe8f3" stroke="#9aaabb"/>
<rect x="270.5" y="967" width="155.5" height="109" rx="10" fill="#ddf0dc" stroke="#a5b8a8"/>
<rect x="470.5" y="967.5" width="156" height="109" rx="10" fill="#ddf0dc" stroke="#a5b8a8"/>
<rect x="670.5" y="967" width="156" height="109" rx="10" fill="#dfe8f3" stroke="#9aaabb"/>
</g>
<!-- INTEGRATION ICONS -->
<!-- keypad -->
<g stroke="#2e3a48" stroke-width="1.3" stroke-linejoin="round">
<rect x="119" y="974" width="36" height="44.5" rx="4" fill="#a8b8cb"/>
<rect x="125" y="974" width="30.2" height="44.5" rx="3.5" fill="#d2deea"/>
<rect x="130.7" y="979.5" width="18.4" height="9" fill="#6f9bcc" stroke-width="1.1"/>
<circle cx="139.6" cy="997.3" r="4.8" fill="#c2cfdc"/>
<path d="M139 994 H162 V1000 H139 Q136 1000 136 997 Q136 994 139 994 Z" fill="#f3d37c" stroke-width="1.1"/>
<circle cx="171.4" cy="996.8" r="9.3" fill="#f3d37c"/>
<circle cx="173" cy="996.8" r="1.6" fill="#fff" stroke-width="1"/>
</g>
<path d="M134 1008.5 h2.5 M138.5 1008.5 h2.5 M143 1008.5 h2.5 M134 1012.5 h2.5 M138.5 1012.5 h2.5 M143 1012.5 h2.5" stroke="#7f8fa2" stroke-width="1.3"/>
<!-- camera -->
<g stroke="#2e3a48" stroke-width="1.3" stroke-linejoin="round">
<path d="M371 1006 Q377 1005 377 1008 V1023 Q377 1026 371 1025 Z" fill="#aab6c4"/>
<path d="M352 1005 L355 1012 Q357 1016 362 1015 L372 1014 V1010 L362 1010 L358 1003 Z" fill="#cdd7e1"/>
<path d="M321 992 L363 976 Q371 973 373 981 L374 988 Q375 993 368 996 L340 1008 Z" fill="#cfd9e4"/>
<path d="M323 990 Q317 993 320 999 Q323 1004 329 1002" fill="#b9c5d1"/>
<ellipse cx="332" cy="999.5" rx="7" ry="8.5" fill="#dfe6ee" transform="rotate(-20 332 999.5)"/>
<ellipse cx="331" cy="1000" rx="4.2" ry="5.6" fill="#4d6680" transform="rotate(-20 331 1000)"/>
</g>
<!-- SIS -->
<g stroke="#2e3a48" stroke-width="1.3" stroke-linejoin="round">
<rect x="522.3" y="978" width="47.5" height="41" rx="3.5" fill="#f8fafc"/>
<path d="M522.3 986.5 V981.5 Q522.3 978 525.8 978 H566.3 Q569.8 978 569.8 981.5 V986.5 Z" fill="#a9b8ca"/>
<rect x="527" y="992.5" width="5" height="6.5" fill="#d4dfeb" stroke-width="0.8"/>
<rect x="527" y="1002.5" width="5" height="9" fill="#d4dfeb" stroke-width="0.8"/>
</g>
<circle cx="526.8" cy="982.3" r="1.5" fill="#d25a5a"/><circle cx="531.5" cy="982.3" r="1.5" fill="#e0c050"/><circle cx="535.5" cy="982.3" r="1.5" fill="#6cbf6a"/>
<path d="M536 993 H563 M536 997.5 H551 M536 1002.5 H548 M536 1007 H548 M536 1011.5 H548" stroke="#a3a9b0" stroke-width="1.3"/>
<g stroke="#1f3b2a" stroke-width="1.3">
<path d="M552.5 1000 V1021.5 A11 3.8 0 0 0 574.5 1021.5 V1000" fill="#8fcfa1"/>
<ellipse cx="563.5" cy="1000" rx="11" ry="3.8" fill="#a8dcb6"/>
<path d="M552.5 1007.5 A11 3.8 0 0 0 574.5 1007.5 M552.5 1014.5 A11 3.8 0 0 0 574.5 1014.5" fill="none"/>
</g>
<!-- cloud lock -->
<path d="M724 1015.5 Q716.5 1015 717 1006 Q717.5 998 726 997.5 Q727 987 737 986 Q742 977 753 977.5 Q765 978.5 768 990 Q780 992 780.5 1003.5 Q780 1015.5 770 1015.5 Z" fill="#a9d2f0" stroke="#2e4a6a" stroke-width="1.3" stroke-linejoin="round"/>
<path d="M741 1007 V999.5 A7.5 7.5 0 0 1 756 999.5 V1007" fill="none" stroke="#2e3a48" stroke-width="4.4"/>
<path d="M741 1007 V999.5 A7.5 7.5 0 0 1 756 999.5 V1007" fill="none" stroke="#cfe4f5" stroke-width="2"/>
<rect x="735.7" y="1006.8" width="25" height="19" rx="2.5" fill="#f5d67d" stroke="#2e3a48" stroke-width="1.3"/>
<circle cx="748.2" cy="1014" r="2.3" fill="#2e3a48"/><path d="M748.2 1014 L746.8 1019.5 H749.6 Z" fill="#2e3a48"/>
<!-- small locks -->
<g id="slock">
<path d="M242.5 1017 V1013 A6 6 0 0 1 254.5 1013 V1017" fill="none" stroke="#2e2e2e" stroke-width="3.2"/>
<path d="M242.5 1017 V1013 A6 6 0 0 1 254.5 1013 V1017" fill="none" stroke="#f8f9fa" stroke-width="1.2"/>
<rect x="239.4" y="1016.7" width="17.4" height="14" rx="2.2" fill="#f5dd8c" stroke="#3a3528" stroke-width="1.3"/>
<circle cx="248.2" cy="1022.5" r="2" fill="#222"/><path d="M248.2 1022.5 V1027" stroke="#222" stroke-width="1.4"/>
</g>
<use href="#slock" x="200" y="0"/>
<use href="#slock" x="400.5" y="0"/>

<g class="b" font-size="16.2" fill="#111" stroke="#111" stroke-width="0.3">
<text x="97.5" y="1036.7" textLength="101" lengthAdjust="spacingAndGlyphs">Access Control</text>
<text x="119" y="1053.3" textLength="58" lengthAdjust="spacingAndGlyphs">Systems</text>
<text x="275" y="1046.7" textLength="146" lengthAdjust="spacingAndGlyphs">Surveillance Cameras</text>
<text x="480.5" y="1047" textLength="135" lengthAdjust="spacingAndGlyphs">Student Information</text>
<text x="479.5" y="1063.2" textLength="59" lengthAdjust="spacingAndGlyphs">Systems</text>
<text x="675.5" y="1047" textLength="145" lengthAdjust="spacingAndGlyphs">Secure Cloud Storage</text>
</g>
<g font-size="16.2" fill="#1a1a1a" stroke="#1a1a1a" stroke-width="0.3">
<text x="101" y="1069.4" textLength="94" lengthAdjust="spacingAndGlyphs">(Smart Locks)</text>
<text x="297.5" y="1062.3" textLength="100" lengthAdjust="spacingAndGlyphs">(Visual Record)</text>
<text x="542" y="1063.2" textLength="75" lengthAdjust="spacingAndGlyphs">(Data Sync)</text>
<text x="675" y="1063" textLength="147" lengthAdjust="spacingAndGlyphs">(FERPA &amp; Data Privacy)</text>
<text x="306" y="1101" textLength="287" lengthAdjust="spacingAndGlyphs">Connects to Existing Security Infrastructure</text>
<text x="335" y="1118.6" textLength="230" lengthAdjust="spacingAndGlyphs">Automated Data Retention Policies</text>
<text x="295.5" y="1136" textLength="307.5" lengthAdjust="spacingAndGlyphs">Encrypted Data Storage for FERPA Compliance</text>
</g>

<!-- FOOTER -->
<text x="311.5" y="1180.3" font-size="19.8" fill="#151515" stroke="#151515" stroke-width="0.3" textLength="273" lengthAdjust="spacingAndGlyphs">treasurevalleysolutions.com</text>
</svg>
</body></html>
